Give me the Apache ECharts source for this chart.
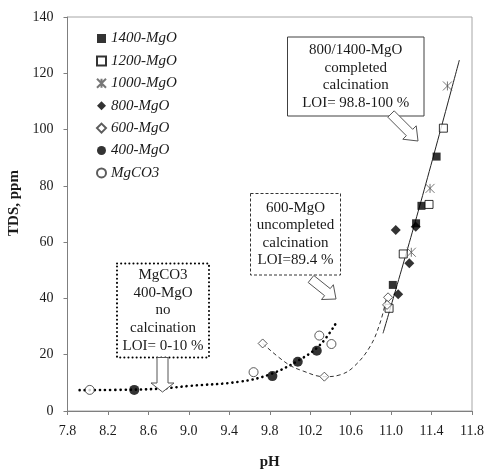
<!DOCTYPE html>
<html>
<head>
<meta charset="utf-8">
<script src="https://cdn.jsdelivr.net/npm/echarts@6/dist/echarts.min.js"></script>
<style>
html,body{margin:0;padding:0;background:#fff;}
#c{width:486px;height:469px;}
</style>
</head>
<body>
<div id="c"></div>
<script>
// ---- data (pH, TDS ppm) ----
var seriesNames = ['1400-MgO','1200-MgO','1000-MgO','800-MgO','600-MgO','400-MgO','MgCO3'];
var mgo1400 = [[11.45,90.4],[11.30,72.9],[11.247,66.7],[11.017,44.8]];
var mgo1200 = [[11.517,100.5],[11.375,73.4],[11.12,55.8],[10.98,36.5]];
var mgo1000 = [[11.557,115.5],[11.385,79.1],[11.20,56.4]];
var mgo800  = [[11.046,64.3],[11.244,65.5],[11.18,52.5],[11.07,41.5]];
var mgo600  = [[9.73,24.0],[10.34,12.2],[10.97,40.4],[10.96,37.7]];
var mgo400  = [[8.46,7.5],[9.826,12.4],[10.077,17.5],[10.265,21.4]];
var mgco3   = [[8.02,7.5],[9.64,13.8],[10.29,26.8],[10.41,23.8]];
// trend curves
var trendSolid  = [[10.92,27.6],[11.28,72.5],[11.675,124.7]];
var trendDashed = [[9.73,24.0],[9.97,16.9],[10.13,14.2],[10.34,12.2],[10.5,12.9],[10.63,15.7],[10.79,22.8],[10.89,31.2],[10.95,39.5]];
var trendDotted = [[7.92,7.4],[8.46,7.6],[8.74,8.0],[9.0,8.9],[9.5,10.4],[9.8,13.0],[10.1,18.3],[10.3,23.6],[10.46,31.5]];
// ticks
var xTicks = [7.8,8.2,8.6,9.0,9.4,9.8,10.2,10.6,11.0,11.4,11.8];
var yTicks = [0,20,40,60,80,100,120,140];

var serif = '"Liberation Serif","Times New Roman",serif';
var txt = '#1a1a1a';
var asterisk = 'path://M0,0L10,10M10,0L0,10M5,0L5,10';

function scat(name, data, symbol, size, filled, color){
  return {
    name: name, type: 'scatter', data: data, symbol: symbol, symbolSize: size,
    itemStyle: filled ? {color: color || '#000', borderWidth: 0}
                      : {color: '#fff', borderColor: color || '#000', borderWidth: 1},
    z: 5
  };
}

// annotation arrow polygon builder (hollow block arrow)
function arrowPts(tail, tip, sw, hw, hl){
  var dx = tip[0]-tail[0], dy = tip[1]-tail[1];
  var L = Math.sqrt(dx*dx+dy*dy), ux = dx/L, uy = dy/L, nx = -uy, ny = ux;
  function p(a, b){ return [tail[0]+ux*a+nx*b, tail[1]+uy*a+ny*b]; }
  return [p(0,-sw), p(L-hl,-sw), p(L-hl,-hw), p(L,0), p(L-hl,hw), p(L-hl,sw), p(0,sw)];
}

function textBox(left, top, w, h, lines, lineStyle, lineH, fs){
  var children = [{
    type: 'rect', shape: {x: left, y: top, width: w, height: h},
    style: Object.assign({fill: '#fff'}, lineStyle)
  }];
  var cx = left + w/2;
  var totalH = lines.length * lineH;
  var y0 = top + (h - totalH)/2 + lineH/2;
  lines.forEach(function(t, i){
    children.push({
      type: 'text', x: cx, y: y0 + i*lineH,
      style: {text: t, font: fs + 'px ' + serif, fill: txt, align: 'center', verticalAlign: 'middle'}
    });
  });
  return {type: 'group', children: children, z: 20};
}

var chart = echarts.init(document.getElementById('c'), null, {renderer: 'canvas'});
var option = {
  animation: false,
  backgroundColor: '#fff',
  grid: {left: 67.5, right: 14, top: 17, bottom: 58, containLabel: false, outerBoundsMode: 'none',
    show: true, borderColor: '#a6a6a6', borderWidth: 1, backgroundColor: 'transparent'},
  legend: {
    data: seriesNames, orient: 'vertical', left: 91, top: 26,
    itemWidth: 9, itemHeight: 9, itemGap: 7.4,
    textStyle: {fontFamily: serif, fontStyle: 'italic', fontSize: 15, color: txt}
  },
  xAxis: {
    type: 'value', min: 7.8, max: 11.8,
    name: 'pH', nameLocation: 'middle', nameGap: 44,
    nameTextStyle: {fontFamily: serif, fontWeight: 'bold', fontSize: 15, color: txt},
    axisLine: {show: true, lineStyle: {color: '#7f7f7f'}},
    axisTick: {show: true, length: 4, lineStyle: {color: '#7f7f7f'}, customValues: xTicks},
    axisLabel: {fontFamily: serif, fontSize: 14, color: txt, margin: 13, customValues: xTicks,
      formatter: function(v){ return v.toFixed(1); }},
    splitLine: {show: false}
  },
  yAxis: {
    type: 'value', min: 0, max: 140, interval: 20,
    name: 'TDS, ppm', nameLocation: 'middle', nameGap: 41, nameRotate: 90,
    nameTextStyle: {fontFamily: serif, fontWeight: 'bold', fontSize: 15, color: txt, padding: [0,0,0,22]},
    axisLine: {show: true, lineStyle: {color: '#7f7f7f'}},
    axisTick: {show: true, length: 4, lineStyle: {color: '#7f7f7f'}, customValues: yTicks},
    axisLabel: {fontFamily: serif, fontSize: 14, color: txt, margin: 14, customValues: yTicks},
    splitLine: {show: false}
  },
  series: [
    {type: 'line', data: trendDotted, smooth: 0.4, symbol: 'none', silent: true, z: 2,
      lineStyle: {color: '#000', width: 2.6, type: [0.1, 5], cap: 'round'}},
    {type: 'line', data: trendDashed, smooth: 0.4, symbol: 'none', silent: true, z: 2,
      lineStyle: {color: '#333', width: 1, type: [4, 3]}},
    {type: 'line', data: trendSolid, smooth: 0.4, symbol: 'none', silent: true, z: 2,
      lineStyle: {color: '#222', width: 1}},
    scat('1400-MgO', mgo1400, 'rect', 8, true),
    scat('1200-MgO', mgo1200, 'rect', 8, false),
    {name: '1000-MgO', type: 'scatter', data: mgo1000, symbol: asterisk, symbolSize: 9, z: 5,
      itemStyle: {color: 'rgba(0,0,0,0)', borderColor: '#555', borderWidth: 1}},
    scat('800-MgO', mgo800, 'diamond', 10, true),
    scat('600-MgO', mgo600, 'diamond', 9, false, '#333'),
    scat('400-MgO', mgo400, 'circle', 10, true),
    scat('MgCO3', mgco3, 'circle', 9, false, '#333')
  ],
  graphic: [
    textBox(287.5, 37, 136.5, 79, ['800/1400-MgO','completed','calcination','LOI= 98.8-100 %'],
      {stroke: '#404040', lineWidth: 1}, 17.6, 15),
    textBox(250.5, 193.5, 90, 81.5, ['600-MgO','uncompleted','calcination','LOI=89.4 %'],
      {stroke: '#333', lineWidth: 1, lineDash: [3, 2]}, 17.5, 15),
    textBox(117, 263.5, 92, 94, ['MgCO3','400-MgO','no','calcination','LOI= 0-10 %'],
      {stroke: '#000', lineWidth: 2, lineDash: [0.1, 4], lineCap: 'round'}, 17.9, 15),
    {type: 'polygon', z: 21, shape: {points: arrowPts([391, 114], [418, 141], 4.5, 9.5, 12)},
      style: {fill: '#fff', stroke: '#555', lineWidth: 1}},
    {type: 'polygon', z: 21, shape: {points: arrowPts([311, 279], [336, 299], 4.5, 9.5, 11)},
      style: {fill: '#fff', stroke: '#555', lineWidth: 1}},
    {type: 'polygon', z: 21, shape: {points: arrowPts([162.5, 357.5], [162.5, 392], 5.5, 11.5, 9)},
      style: {fill: '#fff', stroke: '#555', lineWidth: 1}}
  ]
};
chart.setOption(option);
</script>
</body>
</html>
